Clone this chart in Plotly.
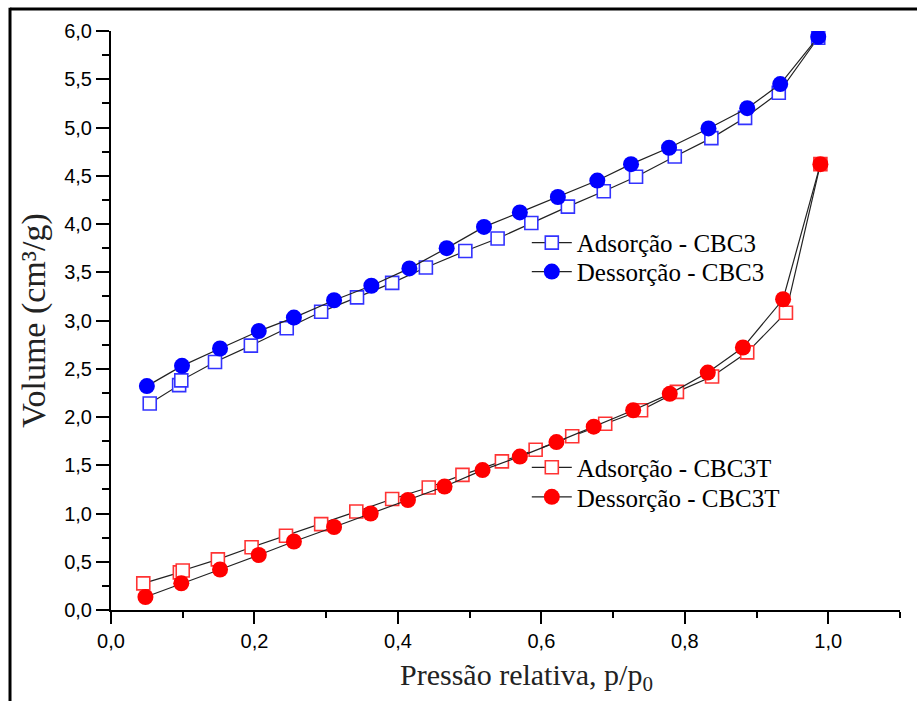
import plotly.graph_objects as go

# Relative pressure (p/p0) and adsorbed volume (cm3/g) for each isotherm branch
ads_cbc3_x = [0.054, 0.095, 0.098, 0.145, 0.195, 0.245, 0.293, 0.343, 0.392, 0.439, 0.494,
              0.539, 0.586, 0.637, 0.687, 0.732, 0.786, 0.837, 0.884, 0.931, 0.986]
ads_cbc3_y = [2.14, 2.33, 2.38, 2.57, 2.74, 2.92, 3.09, 3.24, 3.39, 3.55, 3.72,
              3.85, 4.01, 4.18, 4.34, 4.49, 4.70, 4.89, 5.10, 5.36, 5.93]

des_cbc3_x = [0.050, 0.099, 0.152, 0.206, 0.255, 0.311, 0.363, 0.416, 0.468, 0.520,
              0.570, 0.623, 0.678, 0.725, 0.778, 0.833, 0.887, 0.933, 0.986]
des_cbc3_y = [2.32, 2.53, 2.71, 2.89, 3.03, 3.21, 3.36, 3.54, 3.75, 3.97,
              4.12, 4.28, 4.45, 4.62, 4.79, 4.99, 5.20, 5.45, 5.94]

ads_cbc3t_x = [0.045, 0.096, 0.100, 0.149, 0.196, 0.244, 0.293, 0.342, 0.392, 0.443, 0.490,
               0.545, 0.592, 0.643, 0.689, 0.739, 0.789, 0.838, 0.887, 0.941, 0.989]
ads_cbc3t_y = [0.276, 0.39, 0.41, 0.525, 0.65, 0.77, 0.89, 1.02, 1.15, 1.27, 1.40,
               1.54, 1.66, 1.80, 1.93, 2.07, 2.26, 2.42, 2.67, 3.08, 4.62]

des_cbc3t_x = [0.048, 0.098, 0.152, 0.206, 0.255, 0.311, 0.362, 0.414, 0.465, 0.518,
               0.570, 0.621, 0.673, 0.728, 0.779, 0.832, 0.881, 0.937, 0.989]
des_cbc3t_y = [0.135, 0.276, 0.42, 0.57, 0.71, 0.86, 1.00, 1.14, 1.28, 1.45,
               1.59, 1.74, 1.90, 2.07, 2.24, 2.46, 2.72, 3.22, 4.62]

names = ["Adsorção - CBC3", "Dessorção - CBC3", "Adsorção - CBC3T", "Dessorção - CBC3T"]
x_title = "Pressão relativa, p/p<sub>0</sub>"
y_title = "Volume (cm³/g)"

SERIF = "Liberation Serif, Times New Roman, serif"
SANS = "Liberation Sans, Arial, sans-serif"
LINE = dict(color="#222222", width=1.2)

fig = go.Figure()


def add_ads(x, y, name, color, legend):
    fig.add_trace(go.Scatter(
        x=x, y=y, name=name, mode="lines+markers", legend=legend,
        line=LINE,
        marker=dict(symbol="square", size=13, color="white",
                    line=dict(color=color, width=1.6)),
    ))


def add_des(x, y, name, color, legend):
    fig.add_trace(go.Scatter(
        x=x, y=y, name=name, mode="lines+markers", legend=legend,
        line=LINE,
        marker=dict(symbol="circle", size=16, color=color, line=dict(width=0)),
    ))


# one single-entry legend per series so each row can sit where it belongs
add_ads(ads_cbc3_x, ads_cbc3_y, names[0], "#3333ff", "legend")
add_des(des_cbc3_x, des_cbc3_y, names[1], "#0000ff", "legend2")
add_ads(ads_cbc3t_x, ads_cbc3t_y, names[2], "#ff3333", "legend3")
add_des(des_cbc3t_x, des_cbc3t_y, names[3], "#ff0000", "legend4")

legend_style = dict(
    font=dict(family=SERIF, size=25, color="black"),
    bgcolor="rgba(0,0,0,0)", borderwidth=0,
    xanchor="left", yanchor="middle", itemwidth=40, x=0.527,
)

axis_common = dict(
    showgrid=False, zeroline=False, showline=True, linecolor="black", linewidth=2,
    ticks="outside", tickcolor="black", tickwidth=2, mirror=False,
    tickfont=dict(family=SANS, size=20, color="black"),
)

fig.update_layout(
    width=917, height=701,
    margin=dict(l=111, r=17, t=31, b=91),
    paper_bgcolor="white", plot_bgcolor="white",
    separators=",.",
    showlegend=True,
    legend=dict(y=0.634, **legend_style),
    legend2=dict(y=0.584, **legend_style),
    legend3=dict(y=0.246, **legend_style),
    legend4=dict(y=0.195, **legend_style),
    xaxis=dict(
        range=[0, 1.1], dtick=0.2, tick0=0, tickformat=".1f", ticklen=12,
        minor=dict(dtick=0.1, ticks="outside", ticklen=6, tickwidth=2, tickcolor="black"),
        **axis_common,
    ),
    yaxis=dict(
        range=[0, 6.0], dtick=0.5, tick0=0, tickformat=".1f", ticklen=13,
        minor=dict(dtick=0.25, ticks="outside", ticklen=7, tickwidth=2, tickcolor="black"),
        title=dict(text=y_title,
                   font=dict(family=SERIF, size=34, color="#222222"), standoff=8),
        **axis_common,
    ),
    annotations=[
        dict(text=x_title, xref="paper", yref="paper", x=0.527, y=-0.115,
             xanchor="center", yanchor="middle", showarrow=False,
             font=dict(family=SERIF, size=30, color="#222222")),
    ],
    shapes=[
        # outer frame lines along the top and left edge of the page
        dict(type="line", xref="paper", yref="paper", x0=-0.128, x1=1.03, y0=1.038, y1=1.038,
             line=dict(color="black", width=3)),
        dict(type="line", xref="paper", yref="paper", x0=-0.128, x1=-0.128, y0=1.04, y1=-0.16,
             line=dict(color="black", width=3)),
    ],
)

fig.write_html("out.html")
